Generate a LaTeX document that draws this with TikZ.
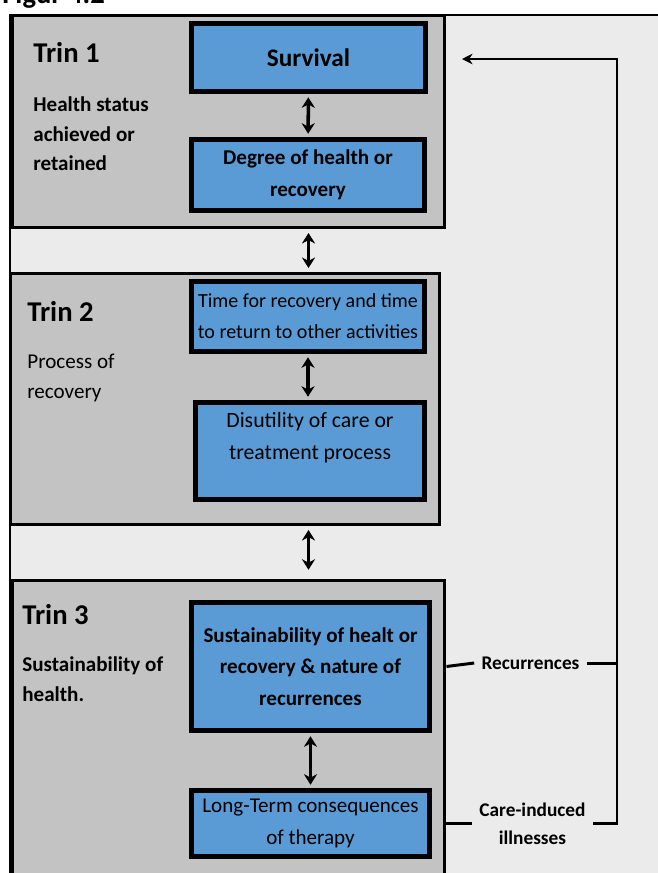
\documentclass[tikz,border=0pt]{standalone}
\usepackage{fontspec}
\setmainfont{Carlito}
\usetikzlibrary{arrows.meta}

\definecolor{boxblue}{RGB}{91,155,213}
\definecolor{trgray}{RGB}{195,195,195}
\definecolor{bggray}{RGB}{235,235,235}

\tikzset{
  trin/.style={draw=black, line width=1.7pt, fill=trgray, inner sep=0pt},
  bluebox/.style={draw=black, line width=2.6pt, fill=boxblue, inner sep=0pt,
    align=center, font=\fontsize{12}{18}\selectfont},
  boldbox/.style={bluebox, font=\bfseries\fontsize{12}{18}\selectfont},
  link/.style={{Stealth[length=6pt,width=7.5pt]}-{Stealth[length=6pt,width=7.5pt]},
    line width=2pt, shorten <=2pt, shorten >=2pt},
  title/.style={anchor=base west, inner sep=0pt, font=\bfseries\fontsize{16.3}{20}\selectfont},
  desc/.style={anchor=north west, inner sep=0pt, align=left, font=\fontsize{12}{17}\selectfont},
  boldesc/.style={desc, font=\bfseries\fontsize{12}{17}\selectfont},
  feed/.style={line width=1.7pt},
  tag/.style={inner xsep=4pt, inner ysep=0pt, align=center,
    font=\bfseries\fontsize{11}{16}\selectfont}
}

\begin{document}
\begin{tikzpicture}[x=0.02cm, y=-0.02cm]
\useasboundingbox (0,0) rectangle (658,873);
\clip (0,0) rectangle (658,873);

\node[title] (fig) at (2,3) {Figur 4.2};

% outer frame
\draw[feed, fill=bggray] (10,15) rectangle (720,940);

% the three trins
\node[trin, minimum width=8.66cm, minimum height=4.26cm] (trin1) at (228.5,121.5) {};
\node[trin, minimum width=8.6cm, minimum height=5.04cm] (trin2) at (225,399) {};
\node[trin, minimum width=8.66cm, minimum height=6.4cm] (trin3) at (228.5,740) {};

\node[title] (t1) at (33,62) {Trin 1};
\node[boldesc] (d1) at (33,96) {Health status\\achieved or\\retained};
\node[title] (t2) at (27,321) {Trin 2};
\node[desc] (d2) at (27,354) {Process of\\recovery};
\node[title] (t3) at (22,624) {Trin 3};
\node[boldesc] (d3) at (22,656) {Sustainability of\\health.};

% boxes
\node[boldbox, minimum width=4.68cm, minimum height=1.36cm,
  font=\bfseries\fontsize{14.4}{18}\selectfont] (surv) at (308.5,57.5) {Survival};
\node[boldbox, minimum width=4.66cm, minimum height=1.42cm] (deg) at (308,175) {Degree of health or\\recovery};
\node[bluebox, minimum width=4.66cm, minimum height=1.4cm,
  font=\fontsize{11.4}{17.6}\selectfont] (time) at (308,316.5) {Time for recovery and time\\to return to other activities};
\node[bluebox, minimum width=4.58cm, minimum height=1.94cm,
  font=\fontsize{12.4}{18.6}\selectfont] (disu) at (310,451) {Disutility of care or\\treatment process\\[-7pt]\strut};
\node[boldbox, minimum width=4.76cm, minimum height=2.56cm] (sust) at (310.5,666.5) {Sustainability of healt or\\recovery \& nature of\\recurrences};
\node[bluebox, minimum width=4.76cm, minimum height=1.32cm] (long) at (310.5,823.5) {Long-Term consequences\\of therapy};

\draw[link] (surv) -- (deg);
\draw[link] (time.south) -- (time.south |- disu.north);
\draw[link] (sust) -- (long);
\draw[link] (trin1.south -| surv) -- (trin2.north -| surv);
\draw[link, shorten >=5pt] (trin2.south -| surv) -- (trin3.north -| surv);

% feedback
\coordinate (ret) at (462,59);
\coordinate (fbx) at (617,59);
\node[tag] (recur) at (530.5,663) {Recurrences};
\node[tag] (care) at (532.5,823.5) {Care-induced\\illnesses};
\draw[feed] (sust -| trin3.east) -- (recur.west);
\draw[feed] (recur.east) -- (recur.east -| fbx);
\draw[feed] (long -| trin3.east) -- (care.west);
\draw[feed, -{Stealth[length=6pt,width=6pt]}] (care.east) -| (fbx) -- (ret);
\end{tikzpicture}
\end{document}
